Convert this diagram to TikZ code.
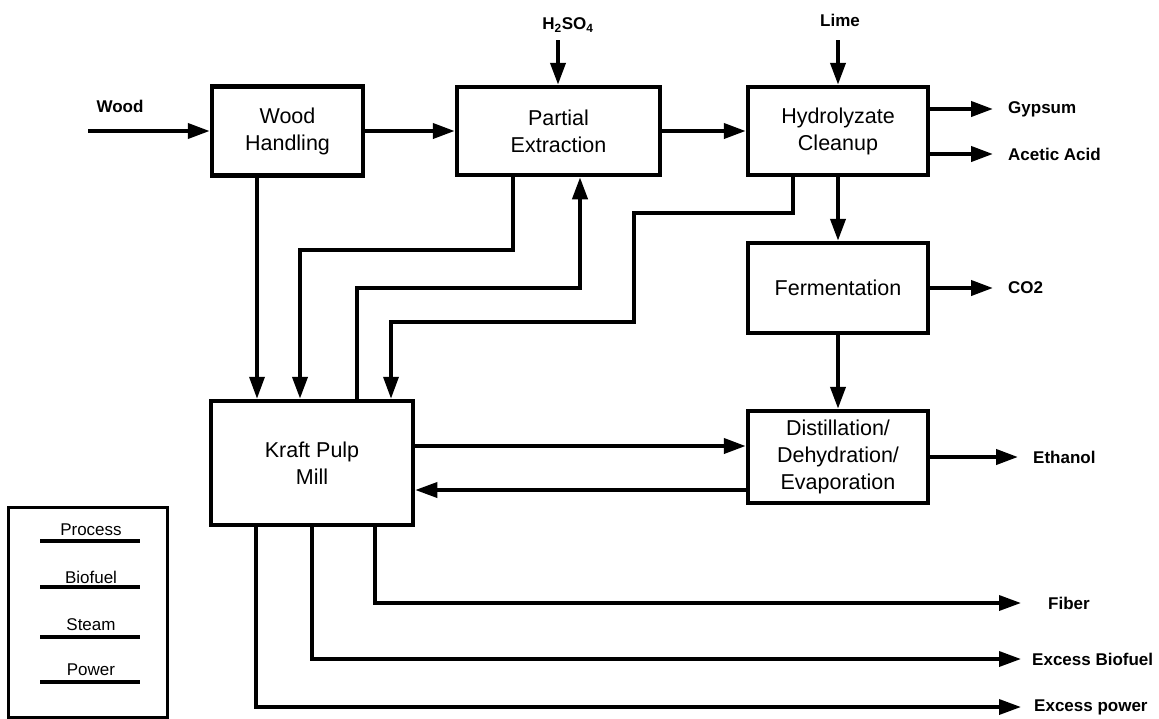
\documentclass[tikz,border=0pt]{standalone}
\usepackage{fontspec}
\setmainfont{Liberation Sans}
\usetikzlibrary{arrows.meta}
\tikzset{
  procbox/.style={draw, line width=4.5pt, align=center, inner sep=0pt,
    font=\fontsize{21.5}{27}\selectfont},
  lbl/.style={font=\fontsize{17}{20}\selectfont\bfseries, inner sep=0pt},
  legtxt/.style={font=\fontsize{17}{20}\selectfont, inner sep=0pt},
  flow/.style={line width=4pt, -{Triangle[length=22pt,width=15pt]}},
  thinflow/.style={line width=3.5pt, -{Triangle[length=22pt,width=15pt]}},
  legline/.style={line width=4pt},
}
\begin{document}
\begin{tikzpicture}[x=1pt,y=-1pt]
\useasboundingbox (0,0) rectangle (1159,718);

% process boxes
\node[procbox, minimum width=151pt, minimum height=89pt] (wh) at (287.5,131) {Wood\\Handling};
\node[procbox, minimum width=203pt, minimum height=88pt] (pe) at (558.5,131) {Partial\\Extraction};
\node[procbox, minimum width=180pt, minimum height=88pt] (hc) at (838,131) {Hydrolyzate\\Cleanup};
\node[procbox, minimum width=180pt, minimum height=90pt] (ferm) at (838,288) {Fermentation};
\node[procbox, minimum width=180pt, minimum height=92pt] (dist) at (838,457) {Distillation/\\Dehydration/\\Evaporation};
\node[procbox, minimum width=202pt, minimum height=124pt] (kraft) at (312,463) {Kraft Pulp\\Mill};

% external labels
\node[lbl] (woodlbl) at (120,106) {Wood};
\node[lbl] (h2lbl) at (568,25) {H\textsubscript{2}SO\textsubscript{4}};
\node[lbl] (limelbl) at (840,20) {Lime};
\node[lbl, anchor=west] (gyplbl) at (1008,109) {Gypsum};
\node[lbl, anchor=west] (acelbl) at (1008,154) {Acetic Acid};
\node[lbl, anchor=west] (co2lbl) at (1008,288) {CO2};
\node[lbl, anchor=west] (ethlbl) at (1033,457) {Ethanol};
\node[lbl, anchor=west] (fiblbl) at (1048,603) {Fiber};
\node[lbl, anchor=west] (biolbl) at (1032,659) {Excess Biofuel};
\node[lbl, anchor=west] (powlbl) at (1034,707) {Excess power};

% free ends and bends
\coordinate (woodin) at (88,131);
\coordinate (h2in) at (558,40);
\coordinate (limein) at (838,40);
\coordinate (gyp) at (993,109);
\coordinate (ace) at (993,154);
\coordinate (co2) at (993,288);
\coordinate (eth) at (1018,457);
\coordinate (kd) at (0,446);
\coordinate (dk) at (0,490);
\coordinate (v1) at (257,0);
\coordinate (b1) at (513,250);
\coordinate (b2) at (300,250);
\coordinate (b3) at (357,288);
\coordinate (b4) at (580,288);
\coordinate (b5) at (793,213);
\coordinate (b6) at (634,213);
\coordinate (b7) at (634,322);
\coordinate (b8) at (391,322);
\coordinate (f1) at (375,603);
\coordinate (f2) at (1021,603);
\coordinate (g1) at (312,659);
\coordinate (g2) at (1021,659);
\coordinate (p1) at (256,707);
\coordinate (p2) at (1021,707);

% main flows
\draw[flow] (woodin) -- (wh.west);
\draw[flow] (wh.east) -- (pe.west);
\draw[flow] (pe.east) -- (hc.west);
\draw[flow] (h2in) -- (h2in |- pe.north);
\draw[flow] (limein) -- (limein |- hc.north);
\draw[flow] (hc.east |- gyp) -- (gyp);
\draw[flow] (hc.east |- ace) -- (ace);
\draw[flow] (hc.south) -- (ferm.north);
\draw[flow] (ferm.east) -- (co2);
\draw[flow] (ferm.south) -- (dist.north);
\draw[flow] (dist.east) -- (eth);
\draw[flow] (kraft.east |- kd) -- (dist.west |- kd);
\draw[thinflow] (dist.west |- dk) -- (kraft.east |- dk);

% flows into / out of the pulp mill
\draw[thinflow] (wh.south -| v1) -- (kraft.north -| v1);
\draw[flow] (pe.south -| b1) -- (b1) -- (b2) -- (kraft.north -| b2);
\draw[flow] (kraft.north -| b3) -- (b3) -- (b4) -- (pe.south -| b4);
\draw[thinflow] (hc.south -| b5) -- (b5) -- (b6) -- (b7) -- (b8) -- (kraft.north -| b8);
\draw[thinflow] (kraft.south -| f1) -- (f1) -- (f2);
\draw[thinflow] (kraft.south -| g1) -- (g1) -- (g2);
\draw[thinflow] (kraft.south -| p1) -- (p1) -- (p2);

% legend
\node[draw, line width=3pt, minimum width=159pt, minimum height=210pt] (legend) at (87.5,612) {};
\node[legtxt] (lgp) at (91,530) {Process};
\node[legtxt] (lgb) at (91,577) {Biofuel};
\node[legtxt] (lgs) at (91,625) {Steam};
\node[legtxt] (lgw) at (91,670) {Power};
\draw[legline] (40,541) -- (140,541);
\draw[legline] (40,587) -- (140,587);
\draw[legline] (40,637) -- (140,637);
\draw[legline] (40,682) -- (140,682);
\end{tikzpicture}
\end{document}
